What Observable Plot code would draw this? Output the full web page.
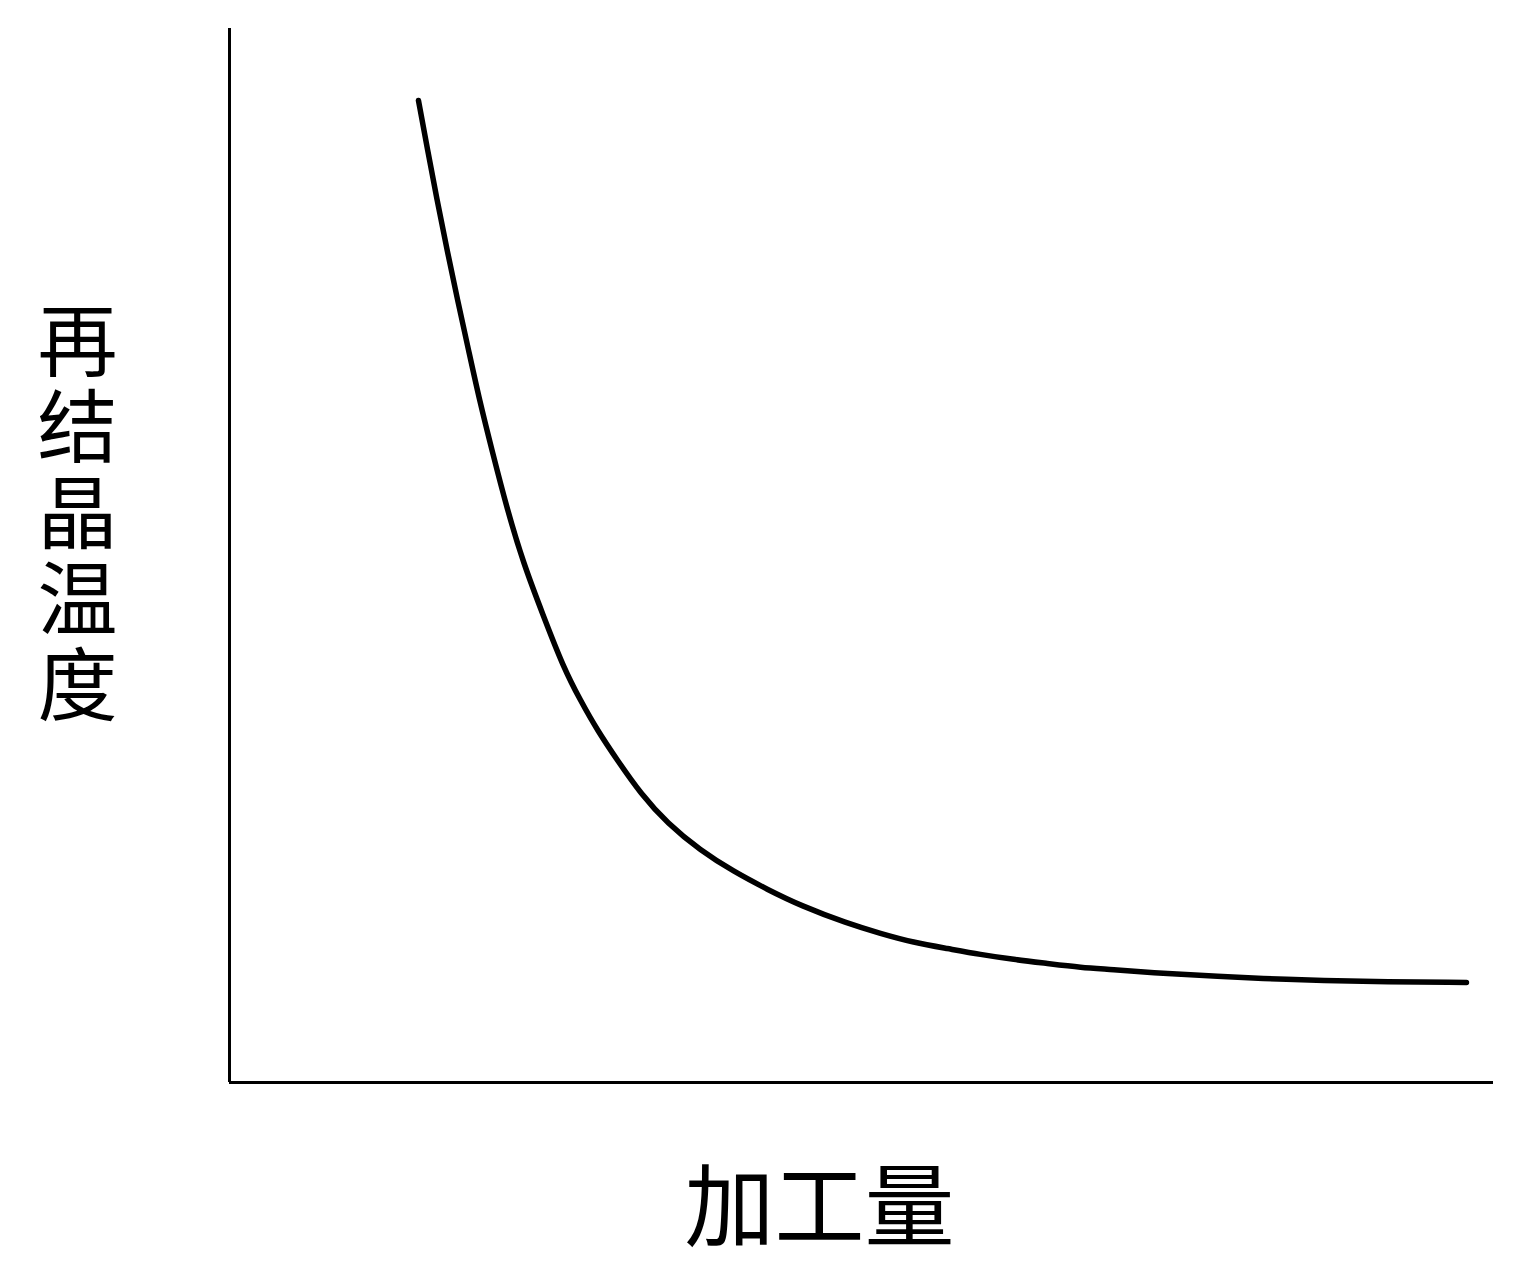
<!DOCTYPE html>
<html>
<head>
<meta charset="utf-8">
<script src="https://cdn.jsdelivr.net/npm/d3@7"></script>
<script src="https://cdn.jsdelivr.net/npm/@observablehq/plot@0.6"></script>
<style>
  html, body { margin: 0; padding: 0; background: #fff; }
</style>
</head>
<body>
<div id="chart"></div>
<script>
// Data (arbitrary units, 0–100 on each axis)
const workAmount = [14.95, 15.68, 16.43, 17.22, 18.05, 18.92, 19.78, 20.77, 21.99, 23.26, 24.76, 26.42, 27.77, 29.11, 30.70, 32.52, 34.65, 37.26, 39.87, 42.56, 45.17, 48.89, 51.50, 54.11, 56.80, 59.41, 62.03, 64.72, 67.33, 69.94, 72.71, 78.16, 83.62, 89.08, 97.86];
const recrystTemp = [93.17, 88.43, 83.68, 78.94, 74.19, 69.45, 64.71, 59.96, 54.27, 49.24, 44.50, 39.37, 36.24, 33.40, 30.55, 27.42, 24.57, 22.01, 20.02, 18.31, 16.79, 15.09, 14.14, 13.28, 12.71, 12.14, 11.67, 11.29, 10.91, 10.72, 10.44, 10.06, 9.77, 9.58, 9.49];
const xLabel = "加工量";
const yLabel = "再结晶温度";

const data = workAmount.map((x, i) => ({x, y: recrystTemp[i]}));
const font = "'Noto Sans CJK SC', 'Noto Sans', sans-serif";

const chart = Plot.plot({
  width: 1532,
  height: 1279,
  marginLeft: 229,
  marginRight: 39,
  marginTop: 28,
  marginBottom: 197,
  style: {background: "#fff", fontFamily: font},
  x: {domain: [0, 100], axis: null},
  y: {domain: [0, 100], axis: null},
  marks: [
    Plot.ruleX([0], {stroke: "#000", strokeWidth: 3}),
    Plot.ruleY([0], {stroke: "#000", strokeWidth: 3}),
    Plot.line(data, {x: "x", y: "y", stroke: "#000", strokeWidth: 5.5, curve: "basis"}),
    Plot.text([xLabel], {
      text: d => d, frameAnchor: "bottom", dx: -42, dy: 128,
      textAnchor: "middle", lineAnchor: "middle",
      fontSize: 90, fill: "#000", fontFamily: font
    }),
    Plot.text([yLabel], {
      text: d => d, frameAnchor: "left", dx: -152, dy: -67,
      textAnchor: "middle",
      fontSize: 80, fill: "#000", fontFamily: font,
      className: "ylab"
    })
  ]
});
// Stack the y-axis label characters vertically as in the reference
d3.select(chart).selectAll(".ylab text")
  .attr("dy", null)
  .attr("writing-mode", "vertical-rl")
  .style("writing-mode", "vertical-rl")
  .style("letter-spacing", "6px");
document.getElementById("chart").appendChild(chart);
</script>
</body>
</html>
